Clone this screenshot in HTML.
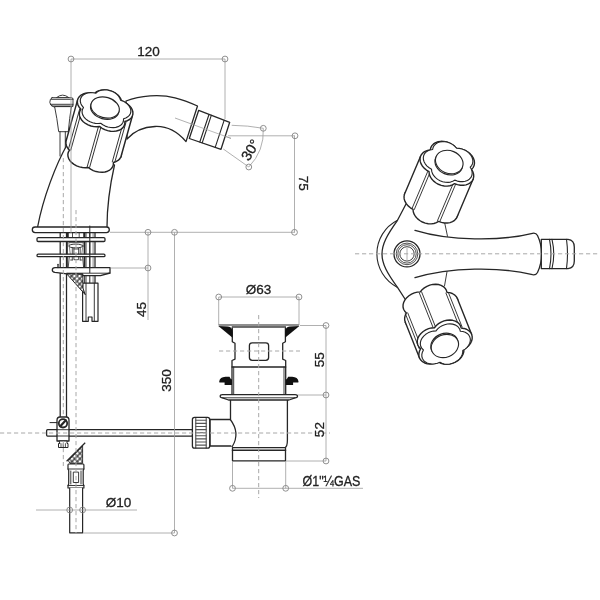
<!DOCTYPE html>
<html><head><meta charset="utf-8"><title>Bidet mixer technical drawing</title>
<style>
html,body{margin:0;padding:0;background:#fff;}
body{width:600px;height:600px;overflow:hidden;font-family:"Liberation Sans",sans-serif;}
svg{display:block;filter:blur(0.3px);}
</style></head><body>
<svg width="600" height="600" viewBox="0 0 600 600">
<g fill="#fff" stroke="#262626" stroke-width="0.9" stroke-linejoin="round" stroke-linecap="round">
<path d="M56.7,97.5 Q62.5,92.5 68.7,97.5Z"/>
<path d="M52,97.7 H71.5 Q73,97.7 73,99.2 V105 Q73,107 71,107 H54 Q49.8,105.5 49.8,102.3 Q49.8,99 52,97.7Z"/>
<path d="M51,99.3 H73 M50.5,104.3 H73 M52,106 H73" fill="none"/>
<path d="M54.7,107 Q57,118 58.7,131.7 H68.3 Q69.5,118 71.3,107Z"/>
<path d="M60,131.7 V156 M65.3,131.7 V150" fill="none"/>
</g>
<path d="M67.5,144 C56,164 43,198 37.6,227 H107 C107,205 110,185 114.5,165 L128,136 L126,110 Z" fill="#fff" stroke="none"/>
<path d="M67.5,144 C56,164 43,198 37.6,227 M107,227 C107,205 110,185 114.5,165" fill="none" stroke="#262626" stroke-width="1.3" stroke-linejoin="round" stroke-linecap="round"/>
<path d="M126,101 C140,95.5 160,94 175,97.8 C184,100 191,103 197.5,106 L186,141.6 C176,130 166,126 155,126.5 C143,127 134,131 127,139 Z" fill="#fff" stroke="#262626" stroke-width="1.3" stroke-linejoin="round" stroke-linecap="round"/>
<path d="M175,118 L231,138.4" stroke="#9c9c9c" stroke-width="0.8" fill="none"/>
<g stroke="#262626" stroke-width="1.3" stroke-linejoin="round" stroke-linecap="round">
<path d="M198.7,110.3 L229.7,122.3 L221,149.3 L189.3,138.5Z" fill="#fff"/>
<path d="M209,114.5 L199.8,142 M211.3,115.3 L202.2,142.8 M224.2,120.2 L215.2,147.4" fill="none" stroke-width="1.1"/>
</g>
<path d="M190,123.5 L231,138.4" stroke="#9c9c9c" stroke-width="0.7" fill="none"/>
<path d="M113.4,162.48 L113.36,164.65 L112.7,166.69 L111.47,168.5 L109.72,170.03 L107.5,171.19 L104.93,171.95 L102.1,172.27 L99.13,172.14 L96.14,171.57 L93.26,170.57 L90.61,169.2 L88.29,167.5 L85.43,167.74 L82.45,167.54 L79.47,166.89 L76.62,165.83 L74.02,164.4 L71.76,162.65 L69.96,160.66 L68.68,158.52 L67.97,156.31 L67.86,154.12 L68.36,152.04 L69.45,150.16 L67.73,148.14 L66.53,145.98 L65.93,143.76 L65.92,141.58 L66.52,139.53 L67.71,137.7 L69.42,136.15 L71.6,134.95 L74.15,134.16 L76.96,133.8 L79.92,133.89 L82.91,134.43 L84.71,132.93 L86.96,131.8 L89.56,131.08 L92.4,130.8 L95.38,130.96 L98.36,131.57 L101.23,132.6 L103.86,134.01 L106.14,135.73 L107.99,137.7 L109.32,139.83 L110.08,142.04 L112.91,143.14 L115.49,144.6 L117.71,146.37 L119.47,148.37 L120.71,150.53 L121.37,152.74 L121.42,154.93 L120.87,156.99 L119.74,158.85 L118.06,160.43 L115.92,161.65Z" fill="#fff" stroke="#262626" stroke-width="1.45" stroke-linejoin="round" stroke-linecap="round"/>
<path d="M132.35,116.07 L77.39,100.66 L65.92,141.58 L120.87,156.99Z" fill="#fff" stroke="none"/>
<path d="M132.35,116.07 L120.87,156.99M77.39,100.66 L65.92,141.58" fill="none" stroke="#262626" stroke-width="1.45" stroke-linejoin="round" stroke-linecap="round"/>
<path d="M126.08,121.9 L114.61,162.82M123.67,121.22 L112.2,162.15M100.97,126.91 L89.49,167.84M98.56,126.24 L87.09,167.16M82.12,109.57 L70.65,150.5M79.72,108.9 L68.24,149.82" fill="none" stroke="#262626" stroke-width="0.9425"/>
<path d="M124.88,121.56 L124.83,123.73 L124.18,125.77 L122.95,127.58 L121.19,129.1 L118.98,130.27 L116.4,131.03 L113.57,131.35 L110.6,131.22 L107.62,130.64 L104.74,129.65 L102.08,128.27 L99.76,126.58 L96.9,126.82 L93.92,126.62 L90.94,125.97 L88.09,124.91 L85.49,123.47 L83.24,121.73 L81.43,119.74 L80.15,117.6 L79.44,115.38 L79.33,113.19 L79.83,111.12 L80.92,109.24 L79.2,107.22 L78.01,105.06 L77.4,102.84 L77.39,100.66 L78,98.61 L79.18,96.77 L80.9,95.23 L83.07,94.03 L85.62,93.24 L88.43,92.88 L91.4,92.97 L94.39,93.5 L96.18,92.01 L98.43,90.88 L101.03,90.16 L103.88,89.87 L106.85,90.04 L109.84,90.65 L112.7,91.68 L115.33,93.09 L117.62,94.81 L119.46,96.78 L120.79,98.91 L121.55,101.12 L124.39,102.22 L126.96,103.68 L129.18,105.45 L130.94,107.45 L132.18,109.61 L132.84,111.82 L132.9,114 L132.35,116.07 L131.21,117.93 L129.54,119.5 L127.4,120.73Z" fill="#fff" stroke="#262626" stroke-width="1.45" stroke-linejoin="round" stroke-linecap="round"/>
<path d="M123.54,118.73 L123.49,120.7 L122.9,122.55 L121.78,124.21 L120.18,125.59 L118.17,126.65 L115.83,127.34 L113.25,127.63 L110.55,127.52 L107.83,126.99 L105.21,126.09 L102.79,124.84 L100.69,123.29 L98.08,123.51 L95.37,123.33 L92.66,122.74 L90.06,121.77 L87.69,120.47 L85.65,118.88 L84,117.07 L82.84,115.12 L82.19,113.11 L82.09,111.11 L82.55,109.22 L83.54,107.51 L81.97,105.67 L80.89,103.71 L80.33,101.69 L80.33,99.71 L80.88,97.84 L81.95,96.17 L83.51,94.76 L85.5,93.67 L87.81,92.95 L90.37,92.62 L93.07,92.71 L95.79,93.2 L97.43,91.84 L99.47,90.81 L101.84,90.15 L104.43,89.89 L107.14,90.04 L109.85,90.6 L112.46,91.54 L114.85,92.81 L116.93,94.38 L118.61,96.17 L119.82,98.12 L120.51,100.13 L123.09,101.12 L125.44,102.46 L127.45,104.07 L129.06,105.89 L130.19,107.85 L130.79,109.86 L130.84,111.85 L130.33,113.73 L129.3,115.42 L127.78,116.85 L125.83,117.97Z" fill="#fff" stroke="#262626" stroke-width="1.16" stroke-linejoin="round"/>
<ellipse cx="104.76" cy="108.76" rx="14.5" ry="10.3" transform="rotate(15.66 104.76 108.76)" fill="#fff" stroke="#262626" stroke-width="1.16"/>
<ellipse cx="105.11" cy="107.51" rx="14.5" ry="10.3" transform="rotate(15.66 105.11 107.51)" fill="#fff" stroke="#262626" stroke-width="1.16"/>
<g fill="#fff" stroke="#262626" stroke-width="1.3" stroke-linejoin="round" stroke-linecap="round">
</g>
<g fill="none" stroke="#262626" stroke-width="0.9" stroke-linejoin="round" stroke-linecap="round">
<path d="M60.2,233 V417 M66.5,233 V417" stroke-width="1.25"/>
<path d="M86.3,233 V283 M93.1,233 V283" stroke-width="0.7" stroke="#555"/>
<path d="M95,233 V283 M84.8,274 V283" stroke-width="1.25"/>
<path d="M89.8,226 V283" stroke-width="1"/>
<path d="M67.6,232.6 V237.6 M84.4,232.6 V237.6" stroke-width="2.3"/>
<path d="M84.6,241.3 V267.8" stroke-width="1.9"/>
<path d="M67.2,241.3 V267.8" stroke-width="1.2"/>
<path d="M72.5,232.6 V237.6 M79.2,232.6 V237.6" stroke-width="0.8"/>
<path d="M69,242.6 H83.4" stroke-width="0.9" stroke="#555"/>
<ellipse cx="75.9" cy="246" rx="7.2" ry="1.9" fill="#fff" stroke-width="0.9"/>
<path d="M72.3,247.8 V254.2 M73.9,248 V254.2 M78.6,248 V254.2 M80.2,247.8 V254.2 M73.9,249 H78.6" stroke-width="0.8"/>
<path d="M72.3,256.4 V260 M80.2,256.4 V260 M73.9,256.4 V259.7 H78.6 V256.4 M69.3,256.6 L68.2,267.6 M82.6,256.6 L83.6,267.6 M70.6,260 H72.3 M80.2,260 H82" stroke-width="0.8"/>
<path d="M68.8,243 L70.3,254 M83.2,243 L81.8,254" stroke-width="0.7" stroke="#555"/>
</g>
<g fill="#fff" stroke="#262626" stroke-width="1.3" stroke-linejoin="round" stroke-linecap="round">
<rect x="32.3" y="227" width="77" height="5.6" rx="2.8"/>
<rect x="37" y="237.6" width="68" height="3.9" rx="1.2"/>
<rect x="37" y="254.2" width="68" height="2.4" rx="1.2"/>
<path d="M55,267.6 H110 V273 L100.5,275.6 H82.5 V273.8 H67 L55,272.4 Q52.3,272 52.3,270 Q52.3,267.6 55,267.6Z"/>
<path d="M67,273.2 H110" fill="none" stroke-width="0.9"/>
</g>
<path d="M58,264.3 V267.6" fill="none" stroke="#262626" stroke-width="1.3" stroke-linejoin="round" stroke-linecap="round"/>
<path d="M89.8,227 V273" fill="none" stroke="#262626" stroke-width="1"/>
<g fill="#fff" stroke="#262626" stroke-width="0.9" stroke-linejoin="round" stroke-linecap="round">
<path d="M82.6,283.2 H98 V321.3 H92 V317 H88.3 V321.3 H82.6Z" stroke-width="1.2"/>
<path d="M86,283.4 V321 M94.3,283.4 V321" fill="none"/>
</g>
<defs><pattern id="hx" width="3.77" height="3.77" patternUnits="userSpaceOnUse" patternTransform="translate(74.3 276) rotate(45)"><rect width="3.77" height="3.77" fill="#fff"/><path d="M1.885,0 V3.77 M0,1.885 H3.77" stroke="#222" stroke-width="1.15"/></pattern>
<pattern id="hx2" width="3.77" height="3.77" patternUnits="userSpaceOnUse" patternTransform="translate(80 450.8) rotate(45)"><rect width="3.77" height="3.77" fill="#fff"/><path d="M1.885,0 V3.77 M0,1.885 H3.77" stroke="#222" stroke-width="1.15"/></pattern></defs>
<path d="M66.3,273.4 L82.9,274.4 V288 L85.3,294.7 Z" fill="url(#hx)" stroke="#262626" stroke-width="1"/>
<g fill="#fff" stroke="#262626" stroke-width="1.3" stroke-linejoin="round" stroke-linecap="round">
<rect x="46.6" y="429.7" width="146" height="6.4" rx="1"/>
<path d="M57,441 V420.5 Q57,417 60,417 H66.3 Q69,417 69,420.5 V441Z"/>
<circle cx="63" cy="423.3" r="4.2" stroke-width="1.8"/>
<path d="M60.3,426.3 L65.8,420.3" fill="none" stroke-width="2.2"/>
<path d="M57.2,429.7 H69 M57.2,436 H69" fill="none" stroke-width="0.9"/>
<path d="M59.5,441 H67 V443.5 H68 V447.5 H58.5 V443.5 H59.5Z" stroke-width="1"/>
<path d="M61,443.7 V447.5 M63.2,443.7 V447.5 M65.4,443.7 V447.5" fill="none" stroke-width="0.8"/>
<path d="M50,422.6 H57" fill="none" stroke-width="1"/>
</g>
<path d="M82.6,446 L68.3,460.5 L70,463.4 H82.6 Z" fill="url(#hx2)" stroke="#262626" stroke-width="0.9"/>
<path d="M85.2,442.8 L66.6,461.2" fill="none" stroke="#262626" stroke-width="1.2"/>
<g fill="#fff" stroke="#262626" stroke-width="0.9" stroke-linejoin="round" stroke-linecap="round">
<path d="M68.6,464 H83.2 Q83.9,464 83.9,465 V469 L83.2,470.5 V484 L83.9,485.5 V488 H68 V485.5 L68.7,484 V470.5 L68,469 V465 Q68,464 68.6,464Z" stroke-width="1.2"/>
<path d="M68,469 H83.9 M68,485.5 H83.9 M70.8,471 V484 M81,471 V484 M73.3,472.5 V482.5 H78.6 V472.5Z" fill="none"/>
<path d="M69.7,488 V532.8 H82.6 V488" stroke-width="1.2"/>
</g>
<g fill="#fff" stroke="#262626" stroke-width="1.3" stroke-linejoin="round" stroke-linecap="round">
<path d="M232,419.5 H210 V446 H236" />
<rect x="192.4" y="417.3" width="17.3" height="30.9" rx="2.2"/>
<path d="M195.8,417.5 V448 M206.2,417.5 V448" fill="none" stroke-width="0.9"/>
<path d="M195.8,420.3 H206.2 M195.8,423.4 H206.2 M195.8,426.5 H206.2 M195.8,429.6 H206.2 M195.8,432.7 H206.2 M195.8,435.8 H206.2 M195.8,438.9 H206.2 M195.8,442.0 H206.2 M195.8,445.1 H206.2" fill="none" stroke-width="1.1" stroke="#555"/>
<path d="M230.5,399 V440 Q230.5,446.5 233,447.6 H285 Q287.4,446.5 287.4,440 V399Z" stroke="none"/>
<path d="M230.5,419.5 V399 H287.4 V440 Q287.4,446.5 285,447.6 H233" fill="none"/>
<path d="M230.3,419.5 Q240.5,433 232.3,446.5" fill="none" stroke-width="1.25"/>
<path d="M232.5,447.6 H285.5 V460.8 H232.5Z"/>
<path d="M232.5,450.2 H285.5" fill="none" stroke-width="1.6"/>
<path d="M232.3,327 V341.7 L235,343.3 V359.2 L232,360.5 V394.6 H285.7 V360.5 L282.7,359.2 V343.3 L285.4,341.7 V327Z"/>
<path d="M232,367 H285.7" fill="none"/>
<path d="M233.7,367 V394.6 M284,367 V394.6" fill="none" stroke-width="0.9"/>
<rect x="249.4" y="342.8" width="19.2" height="17.6" rx="2.8"/>
<path d="M222.5,394.7 H295 Q297.5,394.7 297.5,396.3 Q297.5,397.8 295,397.8 L289,400 H228.5 L222.5,397.8 Q220.2,397.8 220.2,396.3 Q220.2,394.7 222.5,394.7Z"/>
<path d="M222.5,397.8 H295" fill="none" stroke-width="0.9"/>
</g>
<path d="M218.6,325.1 H299.1" fill="none" stroke="#6a6a6a" stroke-width="1.5"/>
<path d="M232.3,327.2 H285.4" fill="none" stroke="#7a7a7a" stroke-width="1.2"/>
<path d="M218.3,326 L228,326.4 Q232.6,327 232.6,332 V337.8 Z" fill="#111"/>
<path d="M299.4,326 L289.7,326.4 Q285.1,327 285.1,332 V337.8 Z" fill="#111"/>
<path d="M219.2,381.6 Q219.8,377 225.5,376.8 H229.5 L231,379.2 H232 V385 H224.6 V382.6 H219.4Z" fill="#111"/>
<path d="M298.5,381.6 Q297.9,377 292.2,376.8 H288.2 L286.7,379.2 H285.7 V385 H293.1 V382.6 H298.3Z" fill="#111"/>
<g fill="#fff" stroke="#262626" stroke-width="1.3" stroke-linejoin="round" stroke-linecap="round">
<path d="M397.5,220.3 A37.6,37.6 0 0 0 397.5,287.4Z" stroke-width="1.1"/>
<path d="M406,204 L397.5,220.3 C387,235 382,244 382,254 C382,264 387,273 397.5,287.4 L405,299 L430,290 L430,215Z" stroke="none"/>
<path d="M406,204 L397.5,220.3 C387,235 382,244 382,254 C382,264 387,273 397.5,287.4 L405,299" fill="none"/>
<path d="M415,230.3 C450,241 500,241.5 532.5,233.3 Q536,232.6 537.5,235.5 Q541.6,244 541.6,254 Q541.6,264 537.5,272.5 Q536,275.4 532.5,274.7 C500,266.5 450,267 415,277.7Z" stroke="none"/>
<path d="M415,230.3 C450,241 500,241.5 532.5,233.3 Q536,232.6 537.5,235.5 Q541.6,244 541.6,254 Q541.6,264 537.5,272.5 Q536,275.4 532.5,274.7 C500,266.5 450,267 415,277.7" fill="none"/>
<path d="M444.5,222 L447.5,236.3 M444.5,286 L447,271.7" fill="none" stroke-width="0.9"/>
<path d="M541.3,239.3 H568 Q574.3,240 574.3,247 V261 Q574.3,268 568,268.6 H541.3Z"/>
<path d="M549.5,239.3 Q552.5,254 549.5,268.6 M552,239.3 Q555.5,254 552,268.6 M566.5,239.3 Q568.5,254 566.5,268.6" fill="none" stroke-width="1.1"/>
</g>
<circle cx="407" cy="253.9" r="13" fill="#fff" stroke="#262626" stroke-width="1.3" stroke-linejoin="round" stroke-linecap="round"/>
<circle cx="407" cy="253.9" r="10.8" fill="none" stroke="#262626" stroke-width="0.8"/>
<circle cx="407" cy="253.9" r="9.2" fill="none" stroke="#262626" stroke-width="0.8"/>
<circle cx="407" cy="253.9" r="7.2" fill="none" stroke="#262626" stroke-width="0.9"/>
<path d="M407,248 V260" stroke="#9c9c9c" stroke-width="0.8" fill="none"/>
<path d="M438.54,221.35 L436.41,222.65 L433.91,223.49 L431.14,223.86 L428.21,223.73 L425.25,223.11 L422.39,222.02 L419.74,220.51 L417.41,218.65 L415.51,216.5 L414.11,214.17 L413.27,211.75 L413.03,209.33 L410.42,207.78 L408.14,205.87 L406.29,203.7 L404.96,201.35 L404.19,198.92 L404.02,196.52 L404.46,194.24 L405.49,192.18 L407.06,190.43 L409.11,189.06 L411.55,188.12 L414.29,187.66 L414.8,185.41 L415.89,183.38 L417.53,181.67 L419.63,180.35 L422.11,179.47 L424.87,179.07 L427.79,179.17 L430.75,179.77 L433.63,180.83 L436.29,182.31 L438.64,184.16 L440.57,186.29 L443.5,186.45 L446.46,187.1 L449.31,188.22 L451.95,189.75 L454.25,191.63 L456.12,193.79 L457.49,196.13 L458.29,198.56 L458.49,200.97 L458.09,203.26 L457.1,205.33 L455.56,207.11 L456.86,209.46 L457.59,211.89 L457.72,214.29 L457.25,216.56 L456.19,218.6 L454.58,220.34 L452.51,221.68 L450.04,222.59 L447.3,223.02 L444.38,222.95 L441.42,222.38Z" fill="#fff" stroke="#262626" stroke-width="1.4" stroke-linejoin="round" stroke-linecap="round"/>
<path d="M473.25,178.81 L420.47,156.49 L404.46,194.24 L457.25,216.56Z" fill="#fff" stroke="none"/>
<path d="M473.25,178.81 L457.25,216.56M420.47,156.49 L404.46,194.24" fill="none" stroke="#262626" stroke-width="1.4" stroke-linejoin="round" stroke-linecap="round"/>
<path d="M455.69,184.09 L439.69,221.84M453.39,183.11 L437.39,220.86M430.19,172.07 L414.18,209.82M427.88,171.1 L411.88,208.84" fill="none" stroke="#262626" stroke-width="0.9099999999999999"/>
<path d="M454.54,183.6 L452.41,184.9 L449.91,185.75 L447.14,186.11 L444.21,185.98 L441.25,185.36 L438.39,184.27 L435.74,182.76 L433.41,180.9 L431.51,178.75 L430.11,176.42 L429.28,174 L429.03,171.58 L426.42,170.03 L424.14,168.12 L422.29,165.95 L420.96,163.6 L420.19,161.17 L420.03,158.77 L420.47,156.49 L421.49,154.43 L423.06,152.68 L425.11,151.31 L427.56,150.37 L430.29,149.92 L430.8,147.66 L431.9,145.63 L433.53,143.92 L435.63,142.6 L438.11,141.72 L440.88,141.32 L443.8,141.42 L446.76,142.02 L449.63,143.08 L452.29,144.56 L454.64,146.41 L456.57,148.54 L459.5,148.7 L462.46,149.35 L465.31,150.47 L467.95,152 L470.25,153.89 L472.12,156.04 L473.49,158.39 L474.29,160.81 L474.5,163.22 L474.09,165.51 L473.1,167.59 L471.56,169.36 L472.86,171.72 L473.59,174.14 L473.72,176.54 L473.25,178.81 L472.19,180.86 L470.59,182.59 L468.51,183.93 L466.05,184.84 L463.3,185.27 L460.38,185.2 L457.42,184.63Z" fill="#fff" stroke="#262626" stroke-width="1.4" stroke-linejoin="round" stroke-linecap="round"/>
<path d="M454.73,180.14 L452.79,181.32 L450.52,182.09 L447.99,182.43 L445.33,182.31 L442.64,181.74 L440.03,180.75 L437.62,179.38 L435.5,177.68 L433.77,175.73 L432.5,173.61 L431.74,171.4 L431.52,169.21 L429.14,167.79 L427.06,166.06 L425.39,164.08 L424.17,161.94 L423.47,159.73 L423.32,157.55 L423.72,155.47 L424.66,153.6 L426.09,152 L427.95,150.75 L430.17,149.9 L432.66,149.49 L433.13,147.43 L434.12,145.59 L435.61,144.03 L437.52,142.83 L439.78,142.03 L442.29,141.67 L444.95,141.76 L447.64,142.3 L450.26,143.27 L452.69,144.62 L454.82,146.3 L456.58,148.24 L459.25,148.38 L461.94,148.98 L464.53,149.99 L466.93,151.39 L469.02,153.1 L470.73,155.06 L471.97,157.2 L472.7,159.4 L472.89,161.59 L472.52,163.68 L471.62,165.57 L470.22,167.18 L471.4,169.33 L472.07,171.54 L472.19,173.72 L471.75,175.78 L470.79,177.64 L469.33,179.22 L467.44,180.45 L465.2,181.27 L462.7,181.66 L460.05,181.6 L457.35,181.08Z" fill="#fff" stroke="#262626" stroke-width="1.1199999999999999" stroke-linejoin="round"/>
<ellipse cx="448.76" cy="163.23" rx="14.2" ry="11.3" transform="rotate(22.97 448.76 163.23)" fill="#fff" stroke="#262626" stroke-width="1.1199999999999999"/>
<ellipse cx="449.27" cy="162.04" rx="14.2" ry="11.3" transform="rotate(22.97 449.27 162.04)" fill="#fff" stroke="#262626" stroke-width="1.1199999999999999"/>
<path d="M406.41,312.94 L404.73,311.25 L403.59,309.25 L403.04,307.01 L403.09,304.63 L403.74,302.21 L404.98,299.86 L406.73,297.66 L408.94,295.72 L411.51,294.12 L414.33,292.92 L417.28,292.17 L420.25,291.91 L422.06,289.74 L424.32,287.84 L426.93,286.28 L429.77,285.13 L432.73,284.44 L435.68,284.24 L438.51,284.53 L441.08,285.31 L443.29,286.53 L445.06,288.16 L446.3,290.11 L446.97,292.32 L449.76,292.67 L452.3,293.5 L454.47,294.78 L456.17,296.45 L457.35,298.44 L457.94,300.67 L457.92,303.04 L457.31,305.46 L456.11,307.82 L454.38,310.03 L452.19,311.98 L449.64,313.61 L449.56,315.99 L448.86,318.41 L447.6,320.76 L445.81,322.94 L443.57,324.86 L440.99,326.44 L438.16,327.61 L435.2,328.33 L432.24,328.57 L429.41,328.3 L426.82,327.56 L424.58,326.36 L421.72,327.48 L418.76,328.14 L415.81,328.31 L413,327.99 L410.45,327.19 L408.25,325.94 L406.52,324.29 L405.31,322.31 L404.68,320.1 L404.66,317.73 L405.24,315.31Z" fill="#fff" stroke="#262626" stroke-width="1.4" stroke-linejoin="round" stroke-linecap="round"/>
<path d="M419.54,358.09 L471.58,334.21 L457.35,298.44 L405.31,322.31Z" fill="#fff" stroke="none"/>
<path d="M419.54,358.09 L405.31,322.31M471.58,334.21 L457.35,298.44" fill="none" stroke="#262626" stroke-width="1.4" stroke-linejoin="round" stroke-linecap="round"/>
<path d="M419.48,349.18 L405.25,313.41M421.8,348.26 L407.57,312.48M433.32,328.14 L419.08,292.37M435.64,327.22 L421.41,291.45M460.04,328.55 L445.8,292.78M462.36,327.63 L448.13,291.86" fill="none" stroke="#262626" stroke-width="0.9099999999999999"/>
<path d="M420.64,348.72 L418.96,347.03 L417.83,345.02 L417.27,342.78 L417.32,340.4 L417.98,337.98 L419.21,335.63 L420.97,333.44 L423.18,331.5 L425.75,329.89 L428.56,328.69 L431.52,327.94 L434.48,327.68 L436.3,325.51 L438.55,323.61 L441.16,322.05 L444,320.91 L446.96,320.22 L449.91,320.01 L452.74,320.3 L455.31,321.08 L457.53,322.3 L459.29,323.93 L460.53,325.89 L461.2,328.09 L464,328.44 L466.53,329.27 L468.7,330.55 L470.4,332.22 L471.58,334.21 L472.17,336.44 L472.16,338.81 L471.54,341.23 L470.34,343.59 L468.61,345.8 L466.42,347.76 L463.87,349.38 L463.79,351.77 L463.1,354.18 L461.83,356.53 L460.04,358.71 L457.81,360.63 L455.22,362.21 L452.39,363.39 L449.43,364.1 L446.47,364.34 L443.64,364.08 L441.05,363.33 L438.81,362.13 L435.96,363.25 L432.99,363.91 L430.04,364.09 L427.23,363.76 L424.68,362.96 L422.49,361.71 L420.75,360.06 L419.54,358.09 L418.91,355.87 L418.89,353.5 L419.47,351.09Z" fill="#fff" stroke="#262626" stroke-width="1.4" stroke-linejoin="round" stroke-linecap="round"/>
<path d="M423.43,349.99 L421.9,348.45 L420.87,346.62 L420.36,344.58 L420.41,342.42 L421,340.22 L422.12,338.07 L423.72,336.08 L425.73,334.32 L428.07,332.86 L430.64,331.76 L433.32,331.08 L436.02,330.84 L437.67,328.87 L439.73,327.14 L442.1,325.72 L444.69,324.68 L447.38,324.05 L450.07,323.86 L452.64,324.13 L454.98,324.84 L456.99,325.95 L458.6,327.43 L459.73,329.21 L460.34,331.22 L462.88,331.54 L465.19,332.29 L467.16,333.46 L468.71,334.97 L469.78,336.79 L470.32,338.81 L470.31,340.97 L469.74,343.17 L468.65,345.32 L467.08,347.33 L465.09,349.11 L462.77,350.59 L462.69,352.76 L462.06,354.96 L460.91,357.1 L459.28,359.08 L457.25,360.83 L454.89,362.27 L452.32,363.33 L449.63,363.99 L446.94,364.2 L444.36,363.96 L442,363.28 L439.96,362.19 L437.36,363.21 L434.67,363.81 L431.98,363.97 L429.43,363.68 L427.1,362.95 L425.11,361.81 L423.53,360.31 L422.43,358.51 L421.86,356.5 L421.84,354.34 L422.37,352.14Z" fill="#fff" stroke="#262626" stroke-width="1.1199999999999999" stroke-linejoin="round"/>
<ellipse cx="444.43" cy="344.78" rx="14" ry="11.2" transform="rotate(158.3 444.43 344.78)" fill="#fff" stroke="#262626" stroke-width="1.1199999999999999"/>
<ellipse cx="444.91" cy="345.99" rx="14" ry="11.2" transform="rotate(158.3 444.91 345.99)" fill="#fff" stroke="#262626" stroke-width="1.1199999999999999"/>
<path d="M355,253.8 H600" stroke="#a8a8a8" stroke-width="1" fill="none" stroke-dasharray="4.2 2.8"/>
<path d="M258.7,315 V498" stroke="#a8a8a8" stroke-width="1" fill="none" stroke-dasharray="4.2 2.8"/>
<path d="M219,351 H300" stroke="#a8a8a8" stroke-width="1" fill="none" stroke-dasharray="4.2 2.8"/>
<path d="M0,433 H330" stroke="#a8a8a8" stroke-width="1" fill="none" stroke-dasharray="4.2 2.8"/>
<path d="M63.3,158 V417 M63.3,441 V466 M76,210 V533" stroke="#a8a8a8" stroke-width="1" fill="none" stroke-dasharray="4.2 2.8"/>
<g stroke="#9c9c9c" stroke-width="0.8" fill="none">
<path d="M71,59 H225 M71,59 V233 M225,59 V119"/>
<path d="M228,135.8 H295 M294.5,135.8 V232.3 M110,232.3 H295"/>
<path d="M148,232.3 V320 M111,268 H148"/>
<path d="M174.5,232.3 V533 M83,533 H174.5"/>
<path d="M218.7,297 H299 M218.7,297 V325 M299,297 V325"/>
<path d="M300,325.5 H326 M298,395 H326 M286,461 H326 M326,325.5 V461"/>
<path d="M232.5,461 V488.3 M285.7,461 V488.3 M232.5,488.3 H363"/>
<path d="M36,510 H137"/>
<path d="M231.7,125.3 Q248,125.5 263.3,128.3 M223.3,149 L248.8,167 M263.3,128.3 A52,52 0 0 1 248.8,167"/>
</g>
<circle cx="71" cy="59" r="2.9" fill="#fff" fill-opacity="0" stroke="#858585" stroke-width="0.9"/>
<circle cx="225" cy="59" r="2.9" fill="#fff" fill-opacity="0" stroke="#858585" stroke-width="0.9"/>
<circle cx="295" cy="135.8" r="2.9" fill="#fff" fill-opacity="0" stroke="#858585" stroke-width="0.9"/>
<circle cx="294.5" cy="232.3" r="2.9" fill="#fff" fill-opacity="0" stroke="#858585" stroke-width="0.9"/>
<circle cx="148" cy="232.3" r="2.9" fill="#fff" fill-opacity="0" stroke="#858585" stroke-width="0.9"/>
<circle cx="174.5" cy="232.3" r="2.9" fill="#fff" fill-opacity="0" stroke="#858585" stroke-width="0.9"/>
<circle cx="148" cy="268" r="2.9" fill="#fff" fill-opacity="0" stroke="#858585" stroke-width="0.9"/>
<circle cx="174.5" cy="533" r="2.9" fill="#fff" fill-opacity="0" stroke="#858585" stroke-width="0.9"/>
<circle cx="218.7" cy="297" r="2.9" fill="#fff" fill-opacity="0" stroke="#858585" stroke-width="0.9"/>
<circle cx="299" cy="297" r="2.9" fill="#fff" fill-opacity="0" stroke="#858585" stroke-width="0.9"/>
<circle cx="326" cy="325.5" r="2.9" fill="#fff" fill-opacity="0" stroke="#858585" stroke-width="0.9"/>
<circle cx="326" cy="395" r="2.9" fill="#fff" fill-opacity="0" stroke="#858585" stroke-width="0.9"/>
<circle cx="326" cy="461" r="2.9" fill="#fff" fill-opacity="0" stroke="#858585" stroke-width="0.9"/>
<circle cx="232.5" cy="488.3" r="2.9" fill="#fff" fill-opacity="0" stroke="#858585" stroke-width="0.9"/>
<circle cx="285.7" cy="488.3" r="2.9" fill="#fff" fill-opacity="0" stroke="#858585" stroke-width="0.9"/>
<circle cx="69.7" cy="510" r="2.9" fill="#fff" fill-opacity="0" stroke="#858585" stroke-width="0.9"/>
<circle cx="82.6" cy="510" r="2.9" fill="#fff" fill-opacity="0" stroke="#858585" stroke-width="0.9"/>
<circle cx="263.3" cy="128.3" r="2.9" fill="#fff" fill-opacity="0" stroke="#858585" stroke-width="0.9"/>
<circle cx="248.8" cy="167" r="2.9" fill="#fff" fill-opacity="0" stroke="#858585" stroke-width="0.9"/>
<text x="148.4" y="55.8" font-family="Liberation Sans, sans-serif" font-size="13.5" fill="#222" stroke="#222" stroke-width="0.3" text-anchor="middle">120</text>
<text x="254.5" y="152.5" font-family="Liberation Sans, sans-serif" font-size="14.3" fill="#222" stroke="#222" stroke-width="0.3" text-anchor="middle" transform="rotate(-58 254.5 152.5)">30&#176;</text>
<text x="298.5" y="183.3" font-family="Liberation Sans, sans-serif" font-size="13.5" fill="#222" stroke="#222" stroke-width="0.3" text-anchor="middle" transform="rotate(90 298.5 183.3)">75</text>
<text x="146" y="309.5" font-family="Liberation Sans, sans-serif" font-size="13.5" fill="#222" stroke="#222" stroke-width="0.3" text-anchor="middle" transform="rotate(-90 146 309.5)">45</text>
<text x="170.6" y="380.5" font-family="Liberation Sans, sans-serif" font-size="13.5" fill="#222" stroke="#222" stroke-width="0.3" text-anchor="middle" transform="rotate(-90 170.6 380.5)">350</text>
<text x="258.5" y="294" font-family="Liberation Sans, sans-serif" font-size="13.5" fill="#222" stroke="#222" stroke-width="0.3" text-anchor="middle">&#216;63</text>
<text x="324.2" y="359.8" font-family="Liberation Sans, sans-serif" font-size="13.5" fill="#222" stroke="#222" stroke-width="0.3" text-anchor="middle" transform="rotate(-90 324.2 359.8)">55</text>
<text x="324.2" y="429.6" font-family="Liberation Sans, sans-serif" font-size="13.5" fill="#222" stroke="#222" stroke-width="0.3" text-anchor="middle" transform="rotate(-90 324.2 429.6)">52</text>
<text x="331.4" y="486" font-family="Liberation Sans, sans-serif" font-size="14" fill="#222" stroke="#222" stroke-width="0.3" text-anchor="middle" textLength="57.8" lengthAdjust="spacingAndGlyphs">&#216;1"&#188;GAS</text>
<text x="118.5" y="506.5" font-family="Liberation Sans, sans-serif" font-size="13.5" fill="#222" stroke="#222" stroke-width="0.3" text-anchor="middle">&#216;10</text>
</svg>
</body></html>
